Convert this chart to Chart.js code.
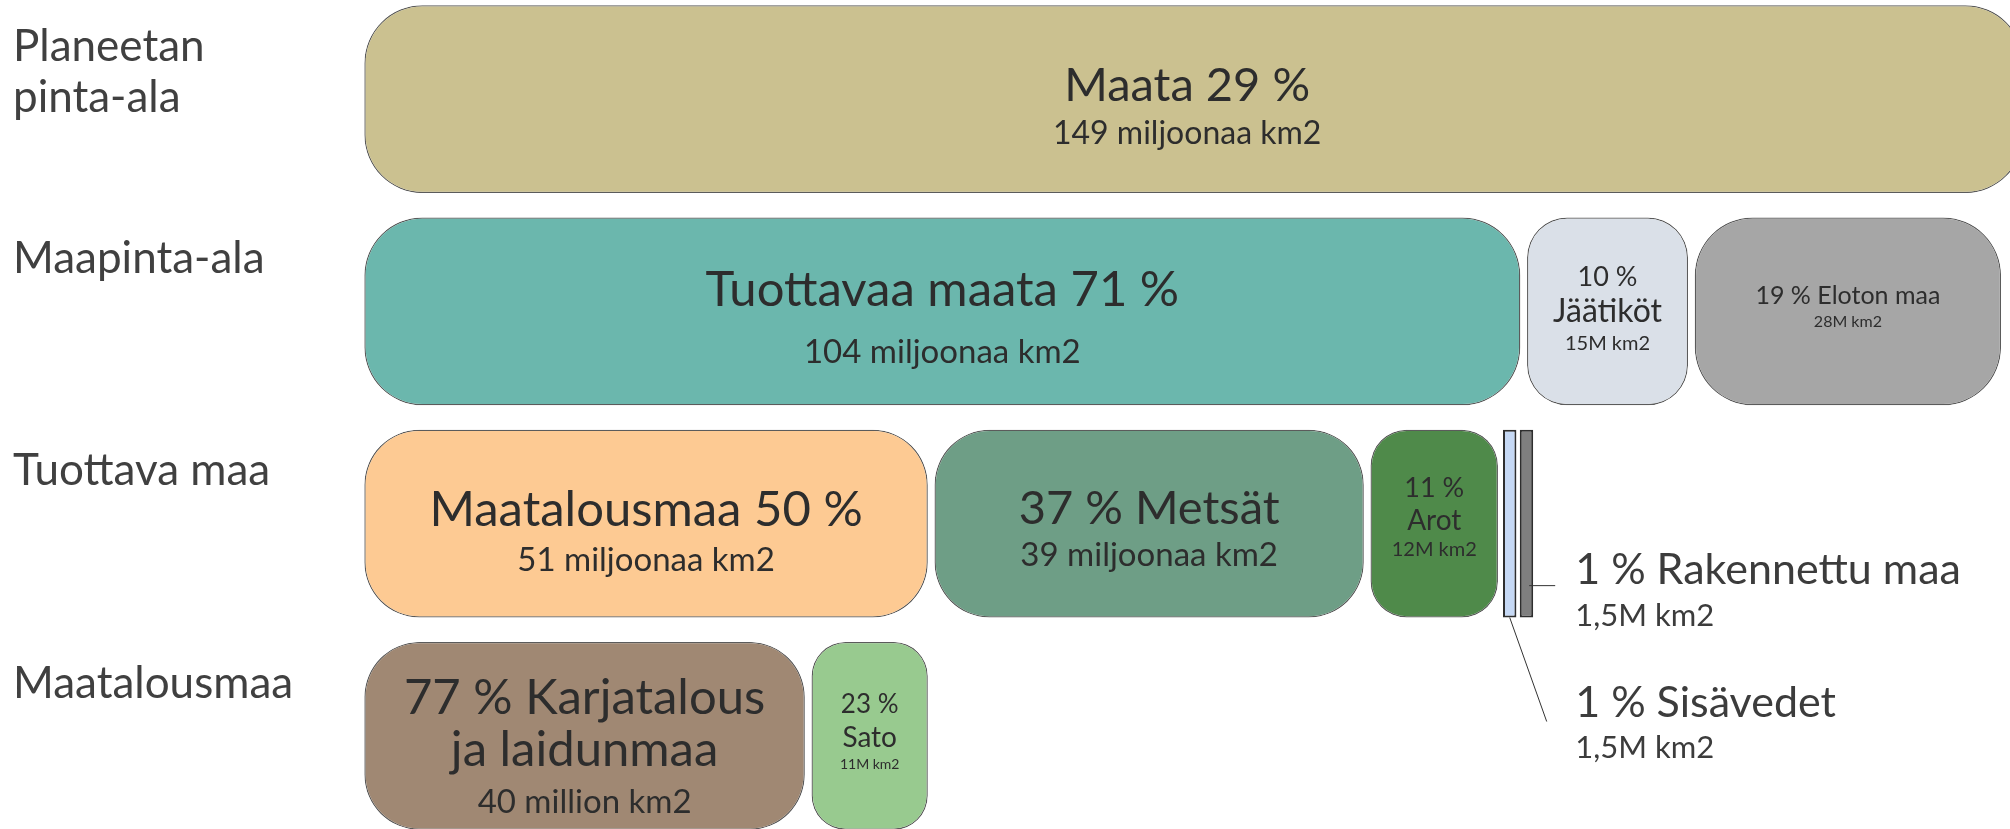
<!DOCTYPE html>
<html>
<head>
<meta charset="utf-8">
<script src="https://cdn.jsdelivr.net/npm/chart.js@4.4.1/dist/chart.umd.min.js"></script>
<style>
  html, body { margin: 0; padding: 0; background: #fff; overflow: hidden; }
  #wrap { position: absolute; left: 0; top: -7px; width: 2010px; height: 849px; }
</style>
</head>
<body>
<div id="wrap"><canvas id="area"></canvas></div>
<script>
// rows of the breakdown (top to bottom)
const rowLabels = [['Planeetan', 'pinta-ala'], ['Maapinta-ala', ''], ['Tuottava maa', ''], ['Maatalousmaa', '']];

// segments, in millions of km2
const segNames = ['Maata', 'Tuottavaa maata', 'Jäätiköt', 'Eloton maa', 'Maatalousmaa', 'Metsät', 'Arot',
  'Sisävedet', 'Rakennettu maa', 'Karjatalous ja laidunmaa', 'Sato'];
const segRow = [0, 1, 1, 1, 2, 2, 2, 2, 2, 3, 3];
const segKm2 = [149, 104, 15, 28, 51, 39, 12, 1.5, 1.5, 40, 11];
const segPct = [29, 71, 10, 19, 50, 37, 11, 1, 1, 77, 23];
const segText = [
  ['Maata 29 %', '149 miljoonaa km2'],
  ['Tuottavaa maata 71 %', '104 miljoonaa km2'],
  ['10 %', 'Jäätiköt', '15M km2'],
  ['19 % Eloton maa', '28M km2'],
  ['Maatalousmaa 50 %', '51 miljoonaa km2'],
  ['37 % Metsät', '39 miljoonaa km2'],
  ['11 %', 'Arot', '12M km2'],
  ['1 % Sisävedet', '1,5M km2'],
  ['1 % Rakennettu maa', '1,5M km2'],
  ['77 % Karjatalous', 'ja laidunmaa', '40 million km2'],
  ['23 %', 'Sato', '11M km2']
];

const segColors = ['#cbc190', '#6bb7ad', '#dae0e8', '#a6a6a6', '#fdca93', '#6e9e86', '#4f8a4a',
  '#c6d9f5', '#7f7f7f', '#a08873', '#98ca8f'];
const segRadius = [58, 58, 40, 58, 55, 55, 36, 0, 0, 55, 34];
// [font size, offset from bar centre] per text line
const segLayout = [
  [[47, -13], [32, 35]],
  [[49, -21], [33, 41]],
  [[27, -34], [32, 0], [20, 32]],
  [[25, -15], [16, 10]],
  [[49, -13], [33, 37]],
  [[47, -15], [33, 32]],
  [[27, -35], [28, -3], [20, 26]],
  null,
  null,
  [[49, -38], [49, 14], [33, 66]],
  [[26, -31], [28, 2], [14, 29]]
];

const FONT = 'Lato, "Open Sans", sans-serif';
const isThin = v => v < 5;

const starts = [];
const acc = rowLabels.map(() => 0);
segKm2.forEach((v, i) => { starts.push(acc[segRow[i]]); acc[segRow[i]] += v; });

const datasets = segNames.map((name, i) => {
  const v = segKm2[i];
  const gap = isThin(v) ? 0.15 : 0.3;
  return {
    label: name,
    data: rowLabels.map((_, r) => r === segRow[i] ? [starts[i] + gap, starts[i] + v - gap] : null),
    backgroundColor: segColors[i],
    borderColor: isThin(v) ? '#2e2e2e' : '#5b5b5b',
    borderWidth: isThin(v) ? 2 : 1.3,
    borderRadius: segRadius[i],
    borderSkipped: false,
    grouped: false,
    barPercentage: 1,
    categoryPercentage: 0.885
  };
});

function barBox(chart, i) {
  const bar = chart.getDatasetMeta(i).data[segRow[i]];
  const p = bar.getProps(['x', 'base', 'y', 'height'], true);
  return { left: Math.min(p.x, p.base), right: Math.max(p.x, p.base), y: p.y, h: p.height };
}

const segLabels = {
  id: 'segLabels',
  afterDatasetsDraw(chart) {
    const ctx = chart.ctx;
    const area = chart.chartArea;
    ctx.save();
    ctx.fillStyle = '#2d2d2d';
    ctx.textBaseline = 'middle';
    segText.forEach((lines, i) => {
      const lay = segLayout[i];
      if (!lay) return;
      const b = barBox(chart, i);
      const cx = (Math.max(b.left, area.left) + Math.min(b.right, area.right)) / 2;
      ctx.textAlign = 'center';
      lines.forEach((t, j) => {
        ctx.font = lay[j][0] + 'px ' + FONT;
        ctx.fillText(t, cx, b.y + lay[j][1]);
      });
    });

    // callouts for the two thin segments
    const water = barBox(chart, 7);
    const built = barBox(chart, 8);
    const tx = built.right + 42;
    ctx.strokeStyle = '#333';
    ctx.lineWidth = 1;
    ctx.beginPath();
    ctx.moveTo(built.right - 4, built.y + 62);
    ctx.lineTo(built.right + 22, built.y + 62);
    const wx = (water.left + water.right) / 2;
    ctx.moveTo(wx, water.y + water.h / 2);
    ctx.lineTo(wx + 37, water.y + water.h / 2 + 104);
    ctx.stroke();

    ctx.fillStyle = '#3c3c3c';
    ctx.textAlign = 'left';
    ctx.font = '43px ' + FONT;
    ctx.fillText(segText[8][0], tx, built.y + 46);
    ctx.fillText(segText[7][0], tx, water.y + 179);
    ctx.font = '31px ' + FONT;
    ctx.fillText(segText[8][1], tx, built.y + 92);
    ctx.fillText(segText[7][1], tx, water.y + 224);
    ctx.restore();
  }
};

new Chart(document.getElementById('area'), {
  type: 'bar',
  data: { labels: rowLabels, datasets: datasets },
  options: {
    indexAxis: 'y',
    responsive: true,
    maintainAspectRatio: false,
    animation: false,
    layout: { padding: { left: 13, right: 0, top: 0, bottom: 0 } },
    plugins: { legend: { display: false }, tooltip: { enabled: false } },
    scales: {
      x: { type: 'linear', min: 0, max: 147.5, display: false },
      y: {
        grid: { display: false },
        border: { display: false },
        afterFit(s) {
          s.width = 348;
          s.paddingTop = 0;
          s.paddingBottom = 0;
        },
        ticks: {
          autoSkip: false,
          crossAlign: 'far',
          padding: 0,
          labelOffset: -27,
          color: '#404040',
          font: { family: FONT, size: 44, weight: 400, lineHeight: 1.16 }
        }
      }
    }
  },
  plugins: [segLabels]
});
</script>
</body>
</html>
